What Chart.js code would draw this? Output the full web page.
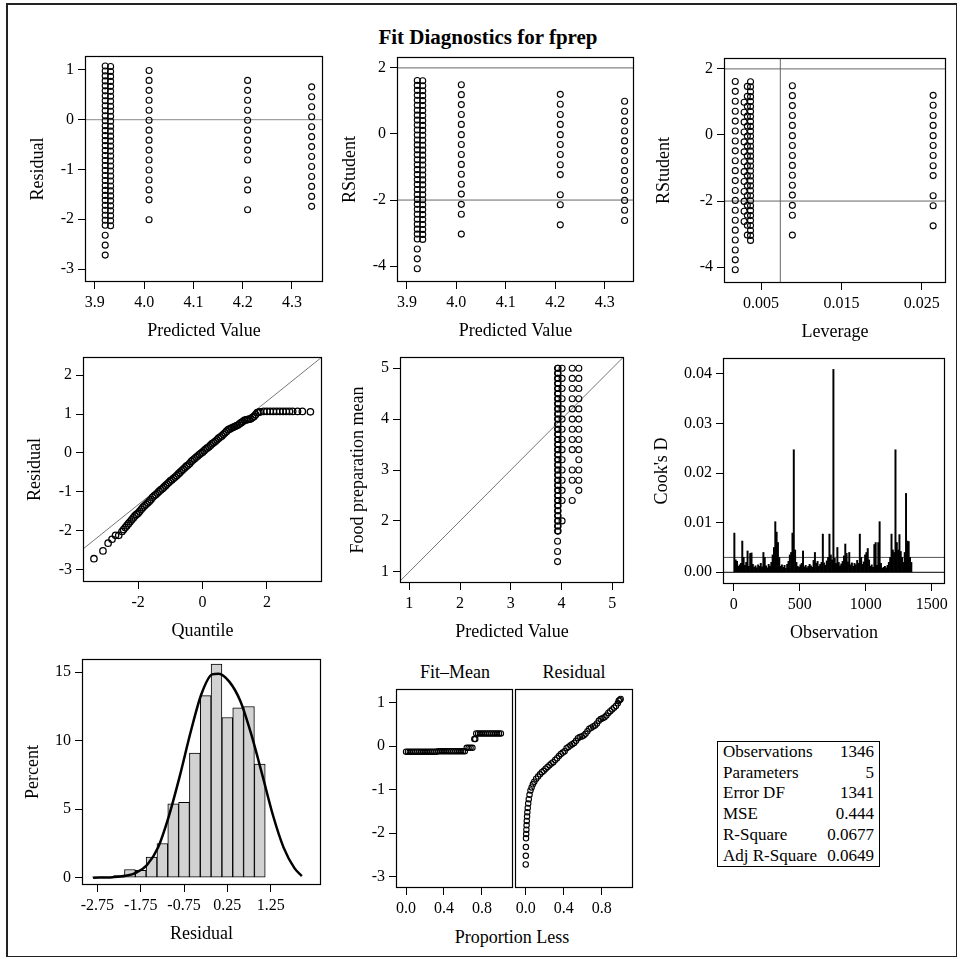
<!DOCTYPE html>
<html>
<head>
<meta charset="utf-8">
<script src="https://cdn.jsdelivr.net/npm/chart.js@4.4.1/dist/chart.umd.min.js"></script>
<style>
  body { margin: 0; background: #fff; }
  #wrap { position: relative; width: 960px; height: 959px; overflow: hidden;
          font-family: 'Liberation Serif', 'Times New Roman', serif; color: #000; }
  #frame { position: absolute; left: 6px; top: 3px; width: 948px; height: 951px;
           border: 1px solid #222; border-top-width: 2px; border-left-width: 2px; }
  canvas { position: absolute; }
  .lbl { position: absolute; white-space: nowrap; text-align: center; }
  #stats { position: absolute; left: 717px; top: 741px; width: 151px; border: 1px solid #000;
           font-size: 17px; line-height: 20.7px; padding: 0 5px; }
  #stats div { display: flex; justify-content: space-between; }
</style>
</head>
<body>
<div id="wrap">
  <div id="frame"></div>
  <div class="lbl" style="left:330px;top:24px;width:316px;font-size:21px;font-weight:bold;line-height:26px">Fit Diagnostics for fprep</div>
  <div class="lbl" style="left:405px;top:661px;width:100px;font-size:18px;line-height:22px">Fit–Mean</div>
  <div class="lbl" style="left:524px;top:661px;width:100px;font-size:18px;line-height:22px">Residual</div>
  <div class="lbl" style="left:432px;top:926px;width:160px;font-size:18px;line-height:22px">Proportion Less</div>
  <div id="stats"></div>
</div>
<script>
// groups of observations sharing a predicted value (3.92 split in two interleaved sets)
const groupPred = [3.921, 3.921, 3.932, 4.01, 4.21, 4.34];
const groupLev  = [0.0018, 0.0033, 0.0037, 0.0089, 0.0264, 0.0029];

const groupResid = [
  [1.08, 0.88, 0.68, 0.48, 0.28, 0.08, -0.12, -0.32, -0.52, -0.72, -0.92, -1.12, -1.32, -1.52, -1.72, -1.92, -2.12, -2.32, -2.52, -2.72],
  [0.98, 0.78, 0.58, 0.38, 0.18, -0.02, -0.22, -0.42, -0.62, -0.82, -1.02, -1.22, -1.42, -1.62, -1.82, -2.02],
  [1.07, 0.97, 0.87, 0.77, 0.67, 0.57, 0.47, 0.37, 0.27, 0.17, 0.07, -0.03, -0.13, -0.23, -0.33, -0.43, -0.53,
   -0.63, -0.73, -0.83, -0.93, -1.03, -1.13, -1.23, -1.33, -1.43, -1.53, -1.63, -1.73, -1.83, -1.93, -2.03, -2.13],
  [0.99, 0.79, 0.59, 0.39, 0.19, -0.01, -0.21, -0.41, -0.61, -0.81, -1.01, -1.21, -1.41, -1.61, -2.01],
  [0.79, 0.59, 0.39, 0.19, -0.01, -0.21, -0.41, -0.61, -0.81, -1.21, -1.41, -1.81],
  [0.66, 0.46, 0.26, 0.06, -0.14, -0.34, -0.54, -0.74, -0.94, -1.14, -1.34, -1.54, -1.74]
];

const groupRStudent = [
  [1.62, 1.32, 1.02, 0.72, 0.42, 0.12, -0.18, -0.48, -0.78, -1.08, -1.38, -1.68, -1.98, -2.28, -2.58, -2.88, -3.18, -3.48, -3.78, -4.08],
  [1.47, 1.17, 0.87, 0.57, 0.27, -0.03, -0.33, -0.63, -0.93, -1.23, -1.53, -1.83, -2.13, -2.43, -2.73, -3.03],
  [1.61, 1.46, 1.31, 1.16, 1.01, 0.86, 0.71, 0.56, 0.41, 0.26, 0.11, -0.04, -0.19, -0.34, -0.49, -0.64, -0.79,
   -0.94, -1.09, -1.24, -1.39, -1.54, -1.69, -1.84, -1.99, -2.14, -2.29, -2.44, -2.59, -2.74, -2.89, -3.04, -3.19],
  [1.49, 1.19, 0.89, 0.59, 0.29, -0.02, -0.32, -0.62, -0.92, -1.22, -1.52, -1.82, -2.13, -2.43, -3.03],
  [1.20, 0.90, 0.59, 0.29, -0.02, -0.32, -0.62, -0.93, -1.23, -1.84, -2.14, -2.75],
  [0.99, 0.69, 0.39, 0.09, -0.21, -0.51, -0.81, -1.11, -1.41, -1.71, -2.01, -2.31, -2.62]
];

const groupObserved = [
  [5.0, 4.8, 4.6, 4.4, 4.2, 4.0, 3.8, 3.6, 3.4, 3.2, 3.0, 2.8, 2.6, 2.4, 2.2, 2.0, 1.8, 1.6, 1.4, 1.2],
  [4.9, 4.7, 4.5, 4.3, 4.1, 3.9, 3.7, 3.5, 3.3, 3.1, 2.9, 2.7, 2.5, 2.3, 2.1, 1.9],
  [5.0, 4.9, 4.8, 4.7, 4.6, 4.5, 4.4, 4.3, 4.2, 4.1, 4.0, 3.9, 3.8, 3.7, 3.6, 3.5, 3.4,
   3.3, 3.2, 3.1, 3.0, 2.9, 2.8, 2.7, 2.6, 2.5, 2.4, 2.3, 2.2, 2.1, 2.0, 1.9, 1.8],
  [5.0, 4.8, 4.6, 4.4, 4.2, 4.0, 3.8, 3.6, 3.4, 3.2, 3.0, 2.8, 2.6, 2.4, 2.0],
  [5.0, 4.8, 4.6, 4.4, 4.2, 4.0, 3.8, 3.6, 3.4, 3.0, 2.8, 2.4],
  [5.0, 4.8, 4.6, 4.4, 4.2, 4.0, 3.8, 3.6, 3.4, 3.2, 3.0, 2.8, 2.6]
];

// Q-Q plot of residuals
const qqQuantile = [-3.37, -3.09, -2.93, -2.81, -2.70, -2.60,
  -2.50, -2.45, -2.40, -2.35, -2.30, -2.25, -2.20, -2.15, -2.10, -2.05, -2.00, -1.95, -1.90, -1.85, -1.80,
  -1.75, -1.70, -1.65, -1.60, -1.55, -1.50, -1.45, -1.40, -1.35, -1.30, -1.25, -1.20, -1.15, -1.10, -1.05,
  -1.00, -0.95, -0.90, -0.85, -0.80, -0.75, -0.70, -0.65, -0.60, -0.55, -0.50, -0.45, -0.40, -0.35, -0.30,
  -0.25, -0.20, -0.15, -0.10, -0.05, 0.00, 0.05, 0.10, 0.15, 0.20, 0.25, 0.30, 0.35, 0.40, 0.45,
  0.50, 0.55, 0.60, 0.65, 0.70, 0.75, 0.80, 0.85, 0.90, 0.95, 1.00, 1.05, 1.10, 1.15, 1.20,
  1.25, 1.30, 1.35, 1.40, 1.45, 1.50, 1.55, 1.60, 1.65, 1.70, 1.75, 1.80,
  1.9, 2.0, 2.1, 2.2, 2.3, 2.4, 2.5, 2.6, 2.7, 2.8, 2.95, 3.10, 3.35];
const qqResidual = [-2.72, -2.52, -2.32, -2.22, -2.12, -2.12,
  -2.02, -1.97, -1.92, -1.87, -1.82, -1.77, -1.72, -1.67, -1.62, -1.58, -1.55, -1.50, -1.45, -1.40, -1.36,
  -1.32, -1.28, -1.24, -1.20, -1.14, -1.10, -1.07, -1.03, -0.99, -0.95, -0.92, -0.88, -0.84, -0.80, -0.76,
  -0.72, -0.69, -0.65, -0.62, -0.58, -0.54, -0.50, -0.46, -0.42, -0.38, -0.34, -0.31, -0.27, -0.22, -0.18,
  -0.15, -0.11, -0.08, -0.04, -0.01, 0.02, 0.06, 0.10, 0.13, 0.16, 0.20, 0.24, 0.27, 0.30, 0.34,
  0.38, 0.41, 0.44, 0.48, 0.52, 0.56, 0.60, 0.62, 0.64, 0.66, 0.68, 0.70, 0.72, 0.75, 0.78,
  0.81, 0.84, 0.85, 0.86, 0.87, 0.88, 0.91, 0.94, 0.99, 1.04, 1.05, 1.06,
  1.07, 1.07, 1.07, 1.07, 1.07, 1.07, 1.07, 1.07, 1.07, 1.07, 1.07, 1.07, 1.06];
const rootMSE = 0.666;

// Cook's D, max per block of 10 observations
const cookD = [
  0.0079, 0.0025, 0.0022, 0.0012, 0.0015, 0.0018, 0.0063, 0.0030, 0.0014, 0.0020,
  0.0043, 0.0012, 0.0038, 0.0039, 0.0016, 0.0010, 0.0013, 0.0009, 0.0015, 0.0012,
  0.0018, 0.0011, 0.0040, 0.0030, 0.0013, 0.0009, 0.0016, 0.0012, 0.0020, 0.0035,
  0.0050, 0.0102, 0.0081, 0.0060, 0.0030, 0.0012, 0.0015, 0.0010, 0.0014, 0.0008,
  0.0016, 0.0022, 0.0035, 0.0040, 0.0079, 0.0247, 0.0045, 0.0020, 0.0012, 0.0010,
  0.0015, 0.0018, 0.0043, 0.0011, 0.0014, 0.0009, 0.0012, 0.0016, 0.0013, 0.0010,
  0.0024, 0.0040, 0.0018, 0.0022, 0.0012, 0.0016, 0.0020, 0.0077, 0.0019, 0.0014,
  0.0023, 0.0030, 0.0077, 0.0035, 0.0025, 0.0409, 0.0028, 0.0018, 0.0050, 0.0020,
  0.0013, 0.0017, 0.0022, 0.0033, 0.0057, 0.0038, 0.0021, 0.0040, 0.0015, 0.0019,
  0.0012, 0.0018, 0.0015, 0.0024, 0.0018, 0.0077, 0.0030, 0.0016, 0.0021, 0.0035,
  0.0040, 0.0048, 0.0025, 0.0012, 0.0015, 0.0010, 0.0056, 0.0060, 0.0014, 0.0060,
  0.0102, 0.0018, 0.0008, 0.0010, 0.0012, 0.0009, 0.0014, 0.0020, 0.0030, 0.0077,
  0.0045, 0.0040, 0.0247, 0.0060, 0.0045, 0.0076, 0.0042, 0.0030, 0.0020, 0.0040,
  0.0159, 0.0063, 0.0062, 0.0030, 0.0020
];
const cookCut = 0.003;

// residual histogram (percent) and fitted normal curve
const histMid = [-2.75, -2.5, -2.25, -2.0, -1.75, -1.5, -1.25, -1.0, -0.75, -0.5, -0.25, 0.0, 0.25, 0.5, 0.75, 1.0];
const histPct = [0.07, 0.07, 0.15, 0.6, 0.55, 1.5, 2.5, 5.4, 5.5, 9.1, 13.3, 15.6, 11.7, 12.4, 12.5, 8.3];
const curveX = [-2.85, -2.4, -2.1, -1.85, -1.6, -1.35, -1.1, -0.85, -0.6, -0.35, -0.1, 0.05, 0.3, 0.55, 0.8, 1.05, 1.3, 1.55, 1.8, 1.97];
const curveY = [0.0, 0.04, 0.14, 0.38, 0.95, 2.2, 4.5, 7.4, 10.6, 13.4, 14.85, 14.9, 14.3, 12.9, 10.5, 7.6, 4.6, 2.2, 0.7, 0.12];

// residual-fit spread plot
const fmProp = [0.00, 0.02, 0.04, 0.06, 0.08, 0.10, 0.12, 0.14, 0.16, 0.18, 0.20, 0.22, 0.24, 0.26, 0.28, 0.30, 0.32,
  0.34, 0.36, 0.38, 0.40, 0.42, 0.44, 0.46, 0.48, 0.50, 0.52, 0.54, 0.56, 0.58, 0.60, 0.62,
  0.64, 0.66, 0.68, 0.70, 0.72, 0.73,
  0.74, 0.76, 0.78, 0.80, 0.82, 0.84, 0.86, 0.88, 0.90, 0.92, 0.94, 0.96, 0.98, 1.00];
const fmValue = [-0.13, -0.13, -0.13, -0.13, -0.13, -0.13, -0.13, -0.13, -0.13, -0.13, -0.13, -0.13, -0.13, -0.13, -0.13, -0.13, -0.13,
  -0.12, -0.12, -0.12, -0.12, -0.12, -0.12, -0.12, -0.12, -0.12, -0.12, -0.12, -0.12, -0.12, -0.12, -0.12,
  -0.04, -0.04, -0.04, -0.04, 0.16, 0.16,
  0.29, 0.29, 0.29, 0.29, 0.29, 0.29, 0.29, 0.29, 0.29, 0.29, 0.29, 0.29, 0.29, 0.29];
const rsProp = [0.000, 0.001, 0.002, 0.003, 0.005, 0.007, 0.009, 0.011, 0.014, 0.017, 0.021, 0.026, 0.032, 0.040, 0.050, 0.062, 0.075, 0.09,
  0.11, 0.13, 0.15, 0.17, 0.19, 0.21, 0.23, 0.25, 0.27, 0.29, 0.31, 0.33, 0.35, 0.37, 0.39, 0.41, 0.43, 0.45, 0.47, 0.49,
  0.51, 0.53, 0.55, 0.57, 0.59, 0.61, 0.63, 0.65, 0.67, 0.69, 0.71, 0.73, 0.75, 0.77, 0.79, 0.81, 0.83, 0.85, 0.87, 0.89,
  0.91, 0.93, 0.95, 0.97, 0.98, 0.99, 1.00];
const rsValue = [-2.72, -2.52, -2.32, -2.12, -2.02, -1.92, -1.82, -1.72, -1.62, -1.52, -1.42, -1.32, -1.22, -1.12, -1.02, -0.95, -0.88, -0.82,
  -0.75, -0.70, -0.65, -0.60, -0.57, -0.52, -0.48, -0.44, -0.40, -0.37, -0.32, -0.28, -0.23, -0.18, -0.15, -0.12, -0.05, -0.02, 0.01, 0.04,
  0.07, 0.12, 0.18, 0.21, 0.22, 0.24, 0.28, 0.34, 0.40, 0.42, 0.45, 0.47, 0.52, 0.58, 0.62, 0.64, 0.66, 0.70, 0.76, 0.80,
  0.84, 0.88, 0.92, 0.98, 1.04, 1.06, 1.08];

const statLabels = ['Observations', 'Parameters', 'Error DF', 'MSE', 'R-Square', 'Adj R-Square'];
const statValues = ['1346', '5', '1341', '0.444', '0.0677', '0.0649'];

Chart.defaults.font.family = "'Liberation Serif', 'Times New Roman', serif";
Chart.defaults.font.size = 16;
Chart.defaults.color = '#000';

const L = 80, T = 14, R = 18, B = 60;
const wrap = document.getElementById('wrap');

const framePlugin = {
  id: 'frame',
  afterDatasetsDraw(chart) {
    const { ctx, chartArea: a } = chart;
    ctx.save();
    ctx.strokeStyle = '#000';
    ctx.lineWidth = 1.2;
    ctx.strokeRect(a.left + 0.5, a.top + 0.5, a.right - a.left - 1, a.bottom - a.top - 1);
    ctx.restore();
  }
};

function axis(min, max, ticks, dec, title, gap) {
  return {
    type: 'linear', min, max, offset: false,
    border: { display: false },
    grid: { drawOnChartArea: false, drawTicks: true, tickLength: 7, color: '#000', tickColor: '#000', offset: false },
    ticks: { padding: 4, autoSkip: false, maxRotation: 0, minRotation: 0, font: { size: 16 },
             callback: v => Number(v).toFixed(dec) },
    afterBuildTicks: a => { a.ticks = ticks.map(v => ({ value: v })); },
    title: { display: !!title, text: title || '', font: { size: 18 },
             padding: gap ? { top: L - gap - 10.8, bottom: 0 } : { top: 0, bottom: 0 } },
    afterFit: s => { if (s.isHorizontal()) s.height = B; else s.width = L; }
  };
}

function panel(box, type, datasets, x, y, padLeft) {
  const pl = padLeft == null ? L : padLeft;
  const c = document.createElement('canvas');
  const w = pl + box.w + R, h = T + box.h + B;
  c.width = w; c.height = h;
  c.style.left = (box.x - pl) + 'px'; c.style.top = (box.y - T) + 'px';
  c.style.width = w + 'px'; c.style.height = h + 'px';
  wrap.appendChild(c);
  new Chart(c, {
    type, data: { datasets }, plugins: [framePlugin],
    options: {
      responsive: false, animation: false, devicePixelRatio: 1, events: [],
      layout: { padding: { left: y.display === false ? pl : 0, top: T, right: R, bottom: 0 } },
      plugins: { legend: { display: false }, tooltip: { enabled: false } },
      scales: { x, y }
    }
  });
}

const circles = (data, r = 3, bw = 1.1) => ({ type: 'scatter', data, pointRadius: r, pointBorderWidth: bw,
  pointBorderColor: '#000', pointBackgroundColor: 'rgba(0,0,0,0)', showLine: false });
const refLine = (data, color = '#8a8a8a', width = 1) => ({ type: 'line', data, borderColor: color, borderWidth: width,
  pointRadius: 0, showLine: true, fill: false, tension: 0 });
const byGroup = (xs, ys) => ys.map((vals, g) => circles(vals.map(v => ({ x: xs[g], y: v }))));

// 1. Residual vs Predicted
panel({ x: 85, y: 56, w: 238, h: 226 }, 'scatter',
  [...byGroup(groupPred, groupResid), refLine([{ x: 3.88, y: 0 }, { x: 4.363, y: 0 }])],
  axis(3.88, 4.363, [3.9, 4.0, 4.1, 4.2, 4.3], 1, 'Predicted Value'),
  axis(-3.26, 1.28, [-3, -2, -1, 0, 1], 0, 'Residual', 47));

// 2. RStudent vs Predicted
panel({ x: 397, y: 57, w: 237, h: 225 }, 'scatter',
  [...byGroup(groupPred, groupRStudent),
   refLine([{ x: 3.88, y: 2 }, { x: 4.359, y: 2 }], '#666'), refLine([{ x: 3.88, y: -2 }, { x: 4.359, y: -2 }], '#666')],
  axis(3.88, 4.359, [3.9, 4.0, 4.1, 4.2, 4.3], 1, 'Predicted Value'),
  axis(-4.48, 2.33, [-4, -2, 0, 2], 0, 'RStudent', 47));

// 3. RStudent vs Leverage
const levCut = 0.0074;
panel({ x: 724, y: 58, w: 222, h: 225 }, 'scatter',
  [...byGroup(groupLev, groupRStudent),
   refLine([{ x: 0.0004, y: 2 }, { x: 0.028, y: 2 }], '#666'), refLine([{ x: 0.0004, y: -2 }, { x: 0.028, y: -2 }], '#666'),
   refLine([{ x: levCut, y: -4.48 }, { x: levCut, y: 2.33 }], '#666')],
  axis(0.0004, 0.028, [0.005, 0.015, 0.025], 3, 'Leverage'),
  axis(-4.48, 2.33, [-4, -2, 0, 2], 0, 'RStudent', 60));

// 4. Q-Q plot
panel({ x: 83, y: 357, w: 239, h: 225 }, 'scatter',
  [circles(qqQuantile.map((q, i) => ({ x: q, y: qqResidual[i] })), 3.2, 1.3),
   refLine([{ x: -3.71, y: -3.71 * rootMSE }, { x: 3.71, y: 3.71 * rootMSE }], '#777')],
  axis(-3.71, 3.71, [-2, 0, 2], 0, 'Quantile'),
  axis(-3.32, 2.47, [-3, -2, -1, 0, 1, 2], 0, 'Residual', 48));

// 5. Observed vs Predicted
panel({ x: 400, y: 357, w: 224, h: 226 }, 'scatter',
  [...byGroup(groupPred, groupObserved), refLine([{ x: 0.817, y: 0.817 }, { x: 5.23, y: 5.23 }], '#777')],
  axis(0.817, 5.23, [1, 2, 3, 4, 5], 0, 'Predicted Value'),
  axis(0.78, 5.22, [1, 2, 3, 4, 5], 0, 'Food preparation mean', 42));

// 6. Cook's D
panel({ x: 723, y: 358, w: 222, h: 226 }, 'bar',
  [{ type: 'bar', data: cookD.map((v, i) => ({ x: i * 10 + 5, y: v })), backgroundColor: '#000',
     borderWidth: 0, barPercentage: 1, categoryPercentage: 1 },
   refLine([{ x: -81, y: cookCut }, { x: 1600, y: cookCut }], '#555'),
   refLine([{ x: -81, y: 0 }, { x: 1600, y: 0 }], '#000')],
  axis(-81, 1600, [0, 500, 1000, 1500], 0, 'Observation'),
  axis(-0.00236, 0.0432, [0, 0.01, 0.02, 0.03, 0.04], 2, "Cook's D", 61));

// 7. Histogram of residuals
panel({ x: 82, y: 659, w: 239, h: 226 }, 'bar',
  [{ type: 'line', data: curveX.map((v, i) => ({ x: v, y: curveY[i] })), borderColor: '#000', borderWidth: 2.5,
     pointRadius: 0, cubicInterpolationMode: 'monotone', fill: false },
   { type: 'bar', data: histMid.map((v, i) => ({ x: v, y: histPct[i] })), backgroundColor: '#d2d2d2',
     borderColor: '#000', borderWidth: 1, borderSkipped: false, barPercentage: 1, categoryPercentage: 1 }],
  axis(-3.106, 2.413, [-2.75, -1.75, -0.75, 0.25, 1.25], 2, 'Residual'),
  axis(-0.53, 15.97, [0, 5, 10, 15], 0, 'Percent', 49));

// 8. Fit-Mean and Residual spread
panel({ x: 396, y: 689, w: 117, h: 199 }, 'scatter',
  [circles(fmProp.map((p, i) => ({ x: p, y: fmValue[i] })), 2.7)],
  axis(-0.106, 1.128, [0, 0.4, 0.8], 1),
  axis(-3.26, 1.31, [-3, -2, -1, 0, 1], 0));
panel({ x: 515, y: 689, w: 118, h: 199 }, 'scatter',
  [circles(rsProp.map((p, i) => ({ x: p, y: rsValue[i] })), 2.7)],
  axis(-0.113, 1.13, [0, 0.4, 0.8], 1),
  { type: 'linear', min: -3.26, max: 1.31, display: false }, 10);

// fit statistics table
document.getElementById('stats').innerHTML = statLabels
  .map((s, i) => `<div><span>${s}</span><span>${statValues[i]}</span></div>`).join('');
</script>
</body>
</html>
